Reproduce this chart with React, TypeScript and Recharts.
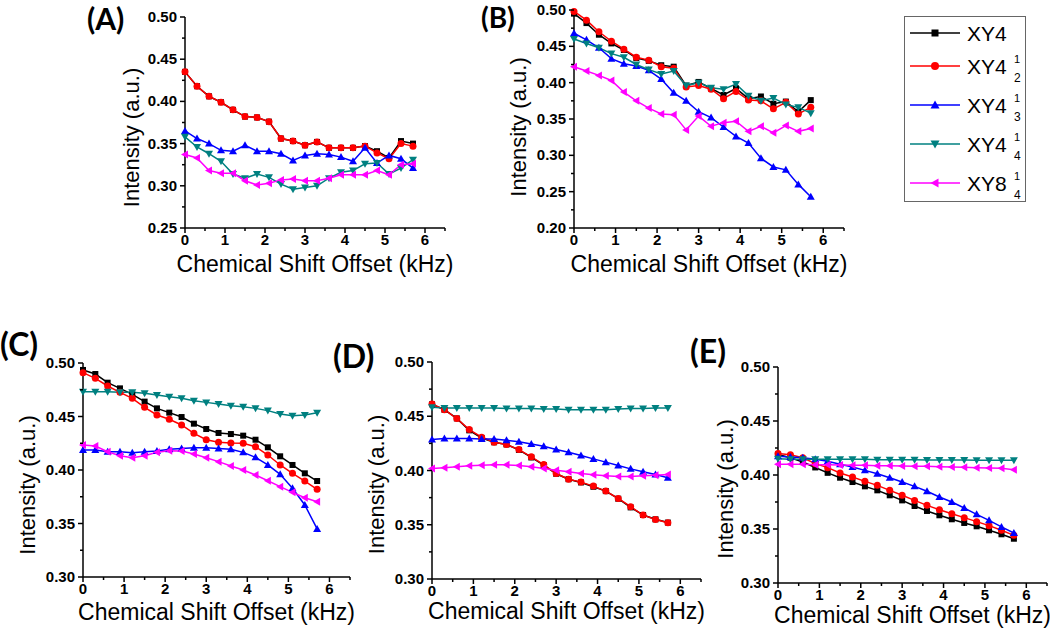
import { LineChart, Line, XAxis, YAxis } from "recharts";

const FONT = '"Liberation Sans", Arial, sans-serif';

// chemical shift offsets (kHz), shared by all panels
const offsets = [0, 0.3, 0.6, 0.9, 1.2, 1.5, 1.8, 2.1, 2.4, 2.7, 3.0, 3.3, 3.6, 3.9, 4.2, 4.5, 4.8, 5.1, 5.4, 5.7];

// panel A
const aXY4 = [0.435, 0.418, 0.406, 0.399, 0.390, 0.382, 0.381, 0.376, 0.356, 0.353, 0.348, 0.352, 0.345, 0.345, 0.345, 0.347, 0.341, 0.333, 0.353, 0.350];
const aXY4_12 = [0.435, 0.418, 0.406, 0.399, 0.390, 0.382, 0.381, 0.376, 0.356, 0.353, 0.348, 0.352, 0.345, 0.345, 0.345, 0.347, 0.339, 0.332, 0.350, 0.347];
const aXY4_13 = [0.365, 0.356, 0.350, 0.342, 0.341, 0.348, 0.341, 0.341, 0.338, 0.330, 0.336, 0.338, 0.337, 0.334, 0.329, 0.345, 0.327, 0.336, 0.332, 0.321];
const aXY4_14 = [0.358, 0.346, 0.338, 0.329, 0.314, 0.309, 0.314, 0.310, 0.302, 0.296, 0.298, 0.300, 0.309, 0.316, 0.318, 0.326, 0.327, 0.314, 0.321, 0.331];
const aXY8_14 = [0.337, 0.333, 0.318, 0.315, 0.315, 0.306, 0.301, 0.303, 0.307, 0.308, 0.306, 0.306, 0.309, 0.313, 0.313, 0.313, 0.318, 0.313, 0.325, 0.326];

// panel B
const bXY4 = [0.495, 0.482, 0.466, 0.454, 0.445, 0.434, 0.430, 0.424, 0.422, 0.396, 0.401, 0.392, 0.383, 0.392, 0.378, 0.381, 0.371, 0.374, 0.360, 0.376];
const bXY4_12 = [0.498, 0.486, 0.470, 0.457, 0.446, 0.435, 0.431, 0.422, 0.420, 0.394, 0.396, 0.391, 0.378, 0.388, 0.376, 0.375, 0.364, 0.373, 0.357, 0.366];
const bXY4_13 = [0.468, 0.459, 0.448, 0.433, 0.426, 0.423, 0.417, 0.405, 0.386, 0.375, 0.360, 0.352, 0.339, 0.326, 0.317, 0.296, 0.284, 0.280, 0.260, 0.243];
const bXY4_14 = [0.460, 0.454, 0.448, 0.440, 0.435, 0.425, 0.418, 0.412, 0.416, 0.396, 0.400, 0.393, 0.391, 0.398, 0.382, 0.375, 0.379, 0.370, 0.366, 0.358];
const bXY8_14 = [0.422, 0.416, 0.410, 0.403, 0.387, 0.375, 0.365, 0.357, 0.356, 0.335, 0.354, 0.340, 0.345, 0.347, 0.333, 0.340, 0.331, 0.341, 0.333, 0.337];

// panel C
const cXY4 = [0.4935, 0.4897, 0.4816, 0.4763, 0.4707, 0.4639, 0.4576, 0.4536, 0.4495, 0.4433, 0.4383, 0.4346, 0.4336, 0.4321, 0.4283, 0.4212, 0.4128, 0.4047, 0.3969, 0.3897];
const cXY4_12 = [0.491, 0.4857, 0.4785, 0.4726, 0.467, 0.4586, 0.4514, 0.4474, 0.4421, 0.4343, 0.4283, 0.4259, 0.4252, 0.4249, 0.4218, 0.414, 0.4047, 0.3969, 0.3897, 0.3819];
const cXY4_13 = [0.4187, 0.4187, 0.4171, 0.4171, 0.4162, 0.4171, 0.4178, 0.4193, 0.4202, 0.4209, 0.4209, 0.4202, 0.4193, 0.4165, 0.4118, 0.4047, 0.396, 0.3829, 0.3673, 0.3449];
const cXY4_14 = [0.4732, 0.4732, 0.4732, 0.4726, 0.4726, 0.4717, 0.4701, 0.4685, 0.467, 0.4648, 0.4632, 0.4617, 0.4601, 0.4592, 0.4576, 0.4555, 0.4523, 0.4508, 0.4514, 0.4536];
const cXY8_14 = [0.4234, 0.4224, 0.4171, 0.4134, 0.4115, 0.4134, 0.4165, 0.4181, 0.4178, 0.415, 0.4115, 0.4078, 0.4037, 0.4, 0.3953, 0.39, 0.3844, 0.3791, 0.3741, 0.3704];

// panel D
const dXY4 = [0.461, 0.456, 0.448, 0.437, 0.430, 0.426, 0.424, 0.419, 0.412, 0.405, 0.397, 0.392, 0.389, 0.385, 0.381, 0.374, 0.366, 0.359, 0.355, 0.352];
const dXY4_12 = [0.4613, 0.4561, 0.4479, 0.4377, 0.4307, 0.4261, 0.4239, 0.4193, 0.4126, 0.4055, 0.3972, 0.392, 0.3893, 0.3856, 0.381, 0.3742, 0.3666, 0.3589, 0.3549, 0.3518];
const dXY4_13 = [0.4285, 0.4294, 0.4294, 0.4294, 0.4291, 0.4291, 0.4279, 0.4264, 0.4245, 0.4224, 0.4193, 0.4169, 0.4138, 0.4107, 0.4077, 0.4046, 0.4015, 0.3988, 0.3963, 0.3933];
const dXY4_14 = [0.4583, 0.4577, 0.4577, 0.4577, 0.4577, 0.4577, 0.4571, 0.4571, 0.4571, 0.4567, 0.4567, 0.4561, 0.4561, 0.4561, 0.4561, 0.4567, 0.4571, 0.4571, 0.4577, 0.4577];
const dXY8_14 = [0.4018, 0.4025, 0.4034, 0.4043, 0.4049, 0.4052, 0.4052, 0.4046, 0.4034, 0.4018, 0.4003, 0.3988, 0.3972, 0.396, 0.3951, 0.3945, 0.3945, 0.3951, 0.3957, 0.3963];

// panel E
const eXY4 = [0.419, 0.416, 0.412, 0.407, 0.402, 0.3975, 0.3935, 0.3895, 0.3858, 0.3812, 0.3765, 0.3713, 0.3667, 0.3627, 0.359, 0.3556, 0.3525, 0.3488, 0.3451, 0.341];
const eXY4_12 = [0.4198, 0.4188, 0.416, 0.4105, 0.4068, 0.4019, 0.3981, 0.3941, 0.3904, 0.3858, 0.3812, 0.3765, 0.3719, 0.3679, 0.3642, 0.3605, 0.3568, 0.3531, 0.3488, 0.3441];
const eXY4_13 = [0.4173, 0.4167, 0.416, 0.4145, 0.4127, 0.4099, 0.4074, 0.4043, 0.4012, 0.3975, 0.3935, 0.3895, 0.3849, 0.3796, 0.375, 0.3694, 0.3636, 0.358, 0.3519, 0.3463];
const eXY4_14 = [0.4151, 0.4145, 0.4145, 0.4145, 0.4145, 0.4145, 0.4145, 0.4145, 0.4142, 0.4142, 0.4142, 0.4142, 0.4139, 0.4139, 0.4139, 0.4139, 0.4136, 0.4136, 0.4136, 0.4136];
const eXY8_14 = [0.4099, 0.4099, 0.4099, 0.4096, 0.4096, 0.4093, 0.409, 0.409, 0.4086, 0.4086, 0.4083, 0.408, 0.408, 0.4077, 0.4074, 0.4071, 0.4068, 0.4065, 0.4062, 0.4049];

// axis ticks (major + minor)
const xTicks = [0, 0.5, 1, 1.5, 2, 2.5, 3, 3.5, 4, 4.5, 5, 5.5, 6, 6.5];
const yTicksA = [0.25, 0.275, 0.3, 0.325, 0.35, 0.375, 0.4, 0.425, 0.45, 0.475, 0.5];
const yTicksB = [0.2, 0.225, 0.25, 0.275, 0.3, 0.325, 0.35, 0.375, 0.4, 0.425, 0.45, 0.475, 0.5];
const yTicksCDE = [0.3, 0.325, 0.35, 0.375, 0.4, 0.425, 0.45, 0.475, 0.5];

const seriesKeys = ["xy4", "xy4_12", "xy4_13", "xy4_14", "xy8_14"];
const seriesColors = ["#000000", "#ff0000", "#0000ff", "#008080", "#ff00ff"];
const seriesMarkers = ["square", "circle", "up", "down", "left"];
const legendMain = ["XY4", "XY4", "XY4", "XY4", "XY8"];
const legendSup = ["", "1", "1", "1", "1"];
const legendSub = ["", "2", "3", "4", "4"];

function buildRows(cols: number[][]) {
  return offsets.map((x, i) => {
    const row: Record<string, number> = { x };
    seriesKeys.forEach((k, j) => (row[k] = cols[j][i]));
    return row;
  });
}

function Marker({ cx, cy, kind, color, size = 6 }: any) {
  if (cx == null || cy == null) return null;
  const h = size / 2;
  if (kind === "square") return <rect x={cx - h} y={cy - h} width={size} height={size} fill={color} />;
  if (kind === "circle") return <circle cx={cx} cy={cy} r={h + 0.5} fill={color} />;
  let pts = "";
  if (kind === "up") pts = `${cx},${cy - h - 1} ${cx + h + 1},${cy + h} ${cx - h - 1},${cy + h}`;
  if (kind === "down") pts = `${cx - h - 1},${cy - h} ${cx + h + 1},${cy - h} ${cx},${cy + h + 1}`;
  if (kind === "left") pts = `${cx - h - 1},${cy} ${cx + h},${cy - h - 1} ${cx + h},${cy + h + 1}`;
  return <polygon points={pts} fill={color} />;
}

function YTick({ x, y, payload }: any) {
  const v = payload.value;
  const major = Math.round(v * 1000) % 50 === 0;
  return (
    <g>
      <line x1={x - (major ? 5 : 3)} x2={x} y1={y} y2={y} stroke="#000" strokeWidth={1.5} />
      {major && (
        <text x={x - 8} y={y + 5} textAnchor="end" fontSize={15} fontWeight="bold" fontFamily={FONT} fill="#000">
          {v.toFixed(2)}
        </text>
      )}
    </g>
  );
}

function XTick({ x, y, payload }: any) {
  const v = payload.value;
  const major = Number.isInteger(v);
  return (
    <g>
      <line x1={x} x2={x} y1={y} y2={y + (major ? 5 : 3)} stroke="#000" strokeWidth={1.5} />
      {major && (
        <text x={x} y={y + 17} textAnchor="middle" fontSize={15} fontWeight="bold" fontFamily={FONT} fill="#000">
          {v}
        </text>
      )}
    </g>
  );
}

// plot-area geometry of each panel, in page pixels
function Panel({ rows, plotLeft, plotTop, plotW, plotH, yDomain, yTicks, yAxisW, xAxisH, yTitleDy }: any) {
  const mT = 12, mR = 20, mB = 2;
  const width = yAxisW + plotW + mR;
  const height = mT + plotH + xAxisH + mB;
  return (
    <div style={{ position: "absolute", left: plotLeft - yAxisW, top: plotTop - mT }}>
      <LineChart width={width} height={height} data={rows} margin={{ top: mT, right: mR, bottom: mB, left: 0 }}>
        <XAxis
          type="number"
          dataKey="x"
          domain={[0, 6.5]}
          ticks={xTicks}
          interval={0}
          height={xAxisH}
          tickSize={0}
          tickMargin={0}
          tickLine={false}
          tick={XTick}
          axisLine={{ stroke: "#000", strokeWidth: 1.5 }}
          label={{ value: "Chemical Shift Offset (kHz)", position: "center", fontSize: 23, fill: "#000", fontFamily: FONT }}
        />
        <YAxis
          type="number"
          domain={yDomain}
          ticks={yTicks}
          interval={0}
          width={yAxisW}
          tickSize={0}
          tickMargin={0}
          tickLine={false}
          tick={YTick}
          axisLine={{ stroke: "#000", strokeWidth: 1.5 }}
          label={{ value: "Intensity (a.u.)", angle: -90, position: "center", dy: yTitleDy, fontSize: 22, fill: "#000", fontFamily: FONT }}
        />
        {seriesKeys.map((k, j) => (
          <Line
            key={k}
            dataKey={k}
            type="linear"
            stroke={seriesColors[j]}
            strokeWidth={1.5}
            isAnimationActive={false}
            activeDot={false}
            dot={(p: any) => <Marker key={`${k}-${p.index}`} cx={p.cx} cy={p.cy} kind={seriesMarkers[j]} color={seriesColors[j]} />}
          />
        ))}
      </LineChart>
    </div>
  );
}

const legendRows = [33, 66, 105, 144, 183];

function LegendBox() {
  return (
    <g fontFamily={FONT}>
      <rect x={904.5} y={16.5} width={121} height={185} fill="#fff" stroke="#666" strokeWidth={1} />
      {legendMain.map((name, i) => {
        const y = legendRows[i];
        return (
          <g key={i}>
            <line x1={910} x2={960} y1={y} y2={y} stroke={seriesColors[i]} strokeWidth={1.5} />
            <Marker cx={935} cy={y} kind={seriesMarkers[i]} color={seriesColors[i]} size={7} />
            <text x={967} y={y + 8} fontSize={21} fill="#000">{name}</text>
            {legendSup[i] && <text x={1014} y={y - 3} fontSize={11} fill="#000">{legendSup[i]}</text>}
            {legendSub[i] && <text x={1014} y={y + 16} fontSize={12} fill="#000">{legendSub[i]}</text>}
          </g>
        );
      })}
    </g>
  );
}

const PANEL_FONT = 'Lato, "Open Sans", sans-serif';

export default function App() {
  return (
    <div style={{ position: "absolute", left: 0, top: 0, width: 1050, height: 632, overflow: "hidden", background: "#fff" }}>
      <Panel rows={buildRows([aXY4, aXY4_12, aXY4_13, aXY4_14, aXY8_14])} plotLeft={185} plotTop={17} plotW={260} plotH={211}
        yDomain={[0.25, 0.5]} yTicks={yTicksA} yAxisW={108} xAxisH={72} yTitleDy={15} />
      <Panel rows={buildRows([bXY4, bXY4_12, bXY4_13, bXY4_14, bXY8_14])} plotLeft={574} plotTop={10} plotW={270} plotH={218}
        yDomain={[0.2, 0.5]} yTicks={yTicksB} yAxisW={112} xAxisH={72} yTitleDy={8} />
      <Panel rows={buildRows([cXY4, cXY4_12, cXY4_13, cXY4_14, cXY8_14])} plotLeft={83} plotTop={363} plotW={267} plotH={214}
        yDomain={[0.3, 0.5]} yTicks={yTicksCDE} yAxisW={112} xAxisH={70} yTitleDy={15} />
      <Panel rows={buildRows([dXY4, dXY4_12, dXY4_13, dXY4_14, dXY8_14])} plotLeft={432} plotTop={362} plotW={269} plotH={217}
        yDomain={[0.3, 0.5]} yTicks={yTicksCDE} yAxisW={112} xAxisH={64} yTitleDy={14} />
      <Panel rows={buildRows([eXY4, eXY4_12, eXY4_13, eXY4_14, eXY8_14])} plotLeft={778} plotTop={367} plotW={269} plotH={216}
        yDomain={[0.3, 0.5]} yTicks={yTicksCDE} yAxisW={106} xAxisH={64} yTitleDy={14} />
      <svg width={1050} height={632} style={{ position: "absolute", left: 0, top: 0, pointerEvents: "none" }}>
        <g fontFamily={PANEL_FONT} fontWeight="bold" fill="#000">
          <text x={87} y={30} fontSize={30}>(A)</text>
          <text x={481} y={28} fontSize={28}>(B)</text>
          <text x={0} y={356} fontSize={32}>(C)</text>
          <text x={333} y={368} fontSize={32}>(D)</text>
          <text x={690} y={363} fontSize={32}>(E)</text>
        </g>
        <LegendBox />
      </svg>
    </div>
  );
}
